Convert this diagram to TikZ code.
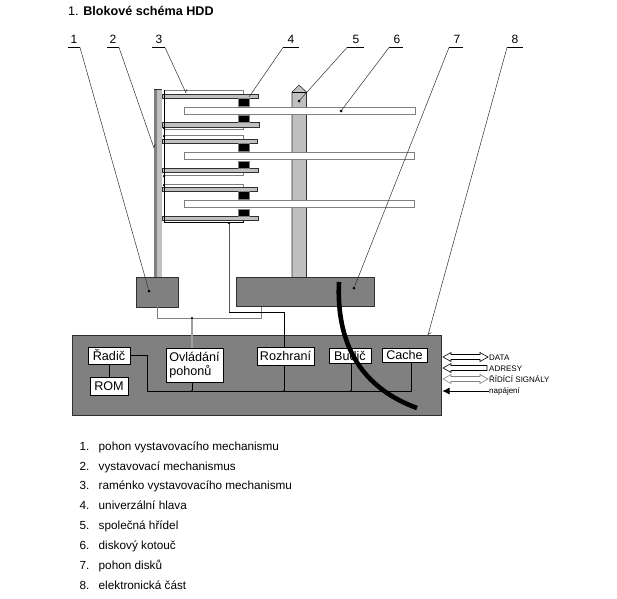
\documentclass[tikz,border=0pt]{standalone}
\usepackage{fontspec}
\setmainfont{Liberation Sans}
\usepackage{xcolor}
\usetikzlibrary{arrows.meta,positioning,calc}
\definecolor{cG}{HTML}{808080}
\definecolor{cL}{HTML}{c0c0c0}
\definecolor{cE}{HTML}{303030}
\newcommand{\fsz}[1]{\fontsize{#1}{#1}\selectfont}
\tikzset{
  dot/.style={circle,fill=black,inner sep=0pt,minimum size=3pt},
  bar/.style={line width=1.6pt},
  lead/.style={line width=.5pt,cE},
  leadtip/.style={lead,-{Straight Barb[length=2.5pt,width=5pt,left]}},
  tag/.style={font=\fsz{12},anchor=base,inner sep=0pt},
  disc/.style={draw=cG,fill=white,line width=.8pt},
  arm/.style={draw=cE,fill=cL,line width=.6pt},
  slim/.style={draw=cG,fill=white,line width=.7pt},
  head/.style={fill=black,draw=cG,line width=.4pt},
  block/.style={draw=cE,fill=cG,line width=.7pt,inner sep=0pt},
  lbox/.style={draw=black,fill=white,line width=.7pt,inner sep=0pt,font=\fsz{12.6},align=left},
  wire/.style={line width=.7pt,black},
  gwire/.style={line width=.8pt,cG},
  hollow/.style={draw=black,fill=white,line width=.6pt},
  side/.style={font=\fsz{8},anchor=base west,inner sep=0pt},
  item/.style={font=\fsz{11.75},anchor=base west,inner sep=0pt},
}
\begin{document}
\begin{tikzpicture}[x=1pt,y=-1pt]
  \useasboundingbox (0,0) rectangle (617,598);
  \node[font=\fsz{12.6},anchor=base west,inner sep=0pt] (title) at (68,15.5)
    {1. \textbf{Blokové schéma HDD}};

  % actuator post, spindle
  \fill[cG] (154,89) rectangle (157,277);
  \fill[cL] (157,89) rectangle (162,277);
  \draw[cE,line width=.6pt] (154,89) -- (162,89);
  \draw[arm] (292,277) -- (292,92) -- (299,85) -- (306.5,92) -- (306.5,277);
  \draw[wire] (292,92) -- (306.5,92);

  % thin arms, then arms
  \foreach \ya/\yb in {90.5/94,127/129.5,135.5/139,172/175.5,184.5/187}{
    \draw[slim] (164,\ya) rectangle (243.5,\yb);
  }
  \foreach \ya/\yb/\xe in {94/98/258,122.5/127/259,139/143/257.5,168/172/258.5,187/191/257.5,216.5/220.5/258.5}{
    \draw[arm] (162,\ya) rectangle (\xe,\yb);
  }
  \foreach \ya/\yb in {98/106,115/122.5,143/151.5,161/168,191/199.5,209/216.5}{
    \draw[head] (238,\ya) rectangle (249,\yb);
  }
  \draw[wire] (164,90) -- (164,222) -- (243.5,222) -- (243.5,220.5);

  % discs
  \foreach \ya/\yb/\xe in {107/114/415,152.5/159.5/414.5,200.5/207.5/414}{
    \draw[disc] (184,\ya) rectangle (\xe,\yb);
  }

  % drives and electronics
  \node[block,minimum width=42pt,minimum height=30pt] (drvA) at (157,292){};
  \node[block,minimum width=138pt,minimum height=29pt] (drvB) at (305,291.5){};
  \node[block,minimum width=369pt,minimum height=80pt] (pcb) at (256.5,375){};
  \node[lbox,minimum width=42pt,minimum height=17pt] (radic) at (109,355.5){Řadič};
  \node[lbox,minimum width=38pt,minimum height=18pt] (rom) at (109,386){ROM};
  \node[lbox,minimum width=57pt,minimum height=34pt] (ovl) at (194.5,365){Ovládání\\[1.5pt]pohonů};
  \node[lbox,minimum width=57pt,minimum height=18pt] (rozhr) at (285.5,356){Rozhraní};
  \node[lbox,minimum width=42pt,minimum height=15pt] (budic) at (350,355.5){Budič};
  \node[lbox,minimum width=45pt,minimum height=14pt] (cache) at (404.5,355){Cache};

  % wiring
  \node[dot,minimum size=2.5pt] (jTop) at (192,318){};
  \node[dot,minimum size=2.5pt] (jArm) at (229,223){};
  \coordinate (pB) at (261,306.5);
  \coordinate (wA) at (229,312);
  \coordinate (wB) at (284,347);
  \draw[gwire] (drvA.south) |- (jTop) -| (pB);
  \draw[gwire,cL!50!cG,line width=1.2pt] (jTop) -- (jTop |- ovl.north);
  \draw[gwire,cG!70!black] (jArm) -- (wA);
  \draw[wire] (wA) -| (wB);
  \draw[wire] (radic) -- (rom);

  % bus
  \coordinate (busL) at (147,391);
  \coordinate (busR) at (411,391);
  \draw[wire] (radic.east) -| (busL) -- (busR) -- (busR |- cache.south);
  \foreach \n/\x/\b in {jOvl/192/ovl,jRoz/284/rozhr,jBud/351/budic}{
    \node[dot,minimum size=2.5pt] (\n) at (\x,391){};
    \draw[wire] (\n) -- (\n |- \b.south);
  }
  \foreach \n/\x/\y in {jSa/164/128,jSb/164/136,jSc/164/176,jSd/164/185}{
    \node[dot,minimum size=2.5pt] (\n) at (\x,\y){};
  }

  % disc drive belt
  \draw[line width=4.6pt,black] (339,282) .. controls (336,345) and (362,388) .. (417,408);

  % label bars and leaders
  \foreach \n/\xa/\xb/\xt in {1/68/80/74,2/107/119/113,3/152/165/159,4/283/299/291,5/347/364/356,6/389/403/397,7/449/463/457,8/507/523/515}{
    \draw[bar] (\xa,47.5) coordinate (ba\n) -- (\xb,47.5) coordinate (bb\n);
    \node[tag] (tag\n) at (\xt,43){\n};
  }
  \foreach \n/\s/\x/\y in {1/bb1/149/291,5/ba5/299/101,6/ba6/341/111,7/ba7/354/288}{
    \node[dot] (end\n) at (\x,\y){};
    \draw[lead] (\s) -- (end\n);
  }
  \foreach \n/\s/\x/\y in {2/bb2/154/148,3/bb3/186/93,4/ba4/249/97,8/ba8/428/335}{
    \coordinate (end\n) at (\x,\y);
  }
  \draw[leadtip] (bb2) -- (end2);
  \draw[leadtip] (bb3) -- (end3);
  \draw[lead] (ba4) -- (end4);
  \draw[leadtip] (ba8) -- (end8);

  % interface signals
  \foreach \y/\c in {357/black,379/cG}{
    \draw[hollow,draw=\c] (443,\y) -- (451,\y-4.5) -- (451,\y-2.5) -- (480,\y-2.5) -- (480,\y-4.5)
      -- (488,\y) -- (480,\y+4.5) -- (480,\y+2.5) -- (451,\y+2.5) -- (451,\y+4.5) -- cycle;
  }
  \draw[hollow] (443,368) -- (451,363.5) -- (451,365.5) -- (487,365.5) -- (487,370.5)
    -- (451,370.5) -- (451,372.5) -- cycle;
  \node[side] (lData) at (489,360){DATA};
  \node[side] (lAdr) at (489,371){ADRESY};
  \node[side] (lRid) at (489,382){ŘÍDÍCÍ SIGNÁLY};
  \node[side] (lNap) at (489,393.5){napájení};
  \coordinate (pwr) at (442.5,391);
  \draw[line width=.6pt,-{Latex[length=7pt,width=7pt]}] (lNap.west |- pwr) -- (pwr);

  % legend
  \foreach \i/\t/\y in {1/pohon vystavovacího mechanismu/450,2/vystavovací mechanismus/470,
    3/raménko vystavovacího mechanismu/489.5,4/univerzální hlava/509,5/společná hřídel/529,
    6/diskový kotouč/549,7/pohon disků/569,8/elektronická část/589}{
    \node[item] (n\i) at (79.5,\y){\i.};
    \node[item] (t\i) at (98.5,\y){\t};
  }
\end{tikzpicture}
\end{document}
